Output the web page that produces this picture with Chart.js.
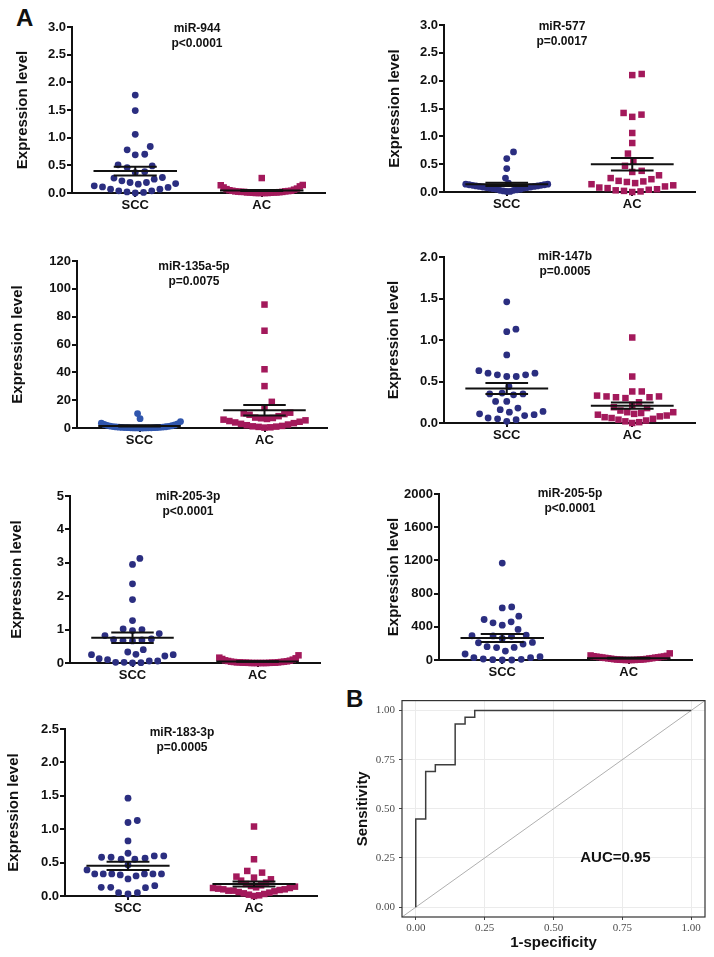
<!DOCTYPE html>
<html>
<head>
<meta charset="utf-8">
<script src="https://cdn.jsdelivr.net/npm/chart.js@4.4.1/dist/chart.umd.min.js"></script>
<style>
html, body { margin: 0; padding: 0; background: #fff; }
body { position: relative; width: 714px; height: 957px; overflow: hidden; font-family: "Liberation Sans", Arial, sans-serif; }
canvas { position: absolute; }
.tag { position: absolute; font-weight: bold; font-size: 24px; line-height: 24px; color: #111; }
</style>
</head>
<body>
<div class="tag" style="left:16px;top:6px">A</div>
<div class="tag" style="left:346px;top:687px">B</div>
<script>
// ---- data ----
const groups = ['SCC', 'AC'];
const titles = ['miR-944', 'miR-577', 'miR-135a-5p', 'miR-147b', 'miR-205-3p', 'miR-205-5p', 'miR-183-3p'];
const pValues = ['p<0.0001', 'p=0.0017', 'p=0.0075', 'p=0.0005', 'p<0.0001', 'p<0.0001', 'p=0.0005'];
const yMaxes = [3, 3, 120, 2, 5, 2000, 2.5];
const ySteps = [0.5, 0.5, 20, 0.5, 1, 400, 0.5];
const yDecimals = [1, 1, 0, 1, 0, 0, 1];

const mir944Scc = [1.77, 1.49, 1.06, 0.84, 0.78, 0.70, 0.69, 0.51, 0.49, 0.46, 0.385, 0.37, 0.28, 0.27, 0.25, 0.22, 0.19, 0.19, 0.17, 0.16, 0.13, 0.11, 0.10, 0.07, 0.07, 0.04, 0.04, 0.02, 0.01, 0.0];
const mir944Ac = [0.27, 0.145, 0.14, 0.12, 0.10, 0.08, 0.07, 0.06, 0.05, 0.04, 0.04, 0.035, 0.03, 0.03, 0.025, 0.02, 0.02, 0.02, 0.015, 0.01, 0.01, 0.01, 0.01, 0.005, 0.005, 0.0, 0.0, 0.0, 0.0, 0.0];

const mir577Scc = [0.72, 0.60, 0.42, 0.25, 0.16, 0.14, 0.14, 0.13, 0.13, 0.12, 0.12, 0.11, 0.11, 0.10, 0.10, 0.09, 0.09, 0.08, 0.08, 0.07, 0.07, 0.06, 0.05, 0.05, 0.04, 0.03, 0.03, 0.02, 0.01, 0.01];
const mir577Ac = [2.12, 2.10, 1.42, 1.39, 1.35, 1.06, 0.88, 0.69, 0.55, 0.47, 0.38, 0.36, 0.30, 0.25, 0.23, 0.20, 0.19, 0.18, 0.16, 0.14, 0.12, 0.10, 0.08, 0.07, 0.05, 0.04, 0.03, 0.02, 0.01, 0.0];

const mir135Scc = [10.4, 6.7, 4.6, 3.5, 3.0, 2.6, 2.2, 1.9, 1.6, 1.4, 1.2, 1.0, 0.9, 0.8, 0.7, 0.6, 0.5, 0.4, 0.35, 0.3, 0.25, 0.2, 0.15, 0.1, 0.1, 0.05, 0.05, 0.02, 0.01, 0.0];
const mir135Ac = [88.7, 69.9, 42.2, 30.1, 18.8, 14.5, 11, 10.5, 10, 9.5, 8.5, 7.5, 7.2, 7.0, 6.5, 6.0, 5.5, 5.0, 4.5, 4.0, 3.5, 3.0, 2.5, 2.0, 1.5, 1.2, 1.0, 0.8, 0.5, 0.3];

const mir147Scc = [1.46, 1.13, 1.10, 0.82, 0.63, 0.60, 0.60, 0.58, 0.58, 0.56, 0.56, 0.44, 0.36, 0.35, 0.35, 0.34, 0.26, 0.26, 0.18, 0.16, 0.14, 0.13, 0.11, 0.10, 0.09, 0.06, 0.05, 0.04, 0.02];
const mir147Ac = [1.03, 0.56, 0.38, 0.38, 0.33, 0.32, 0.32, 0.31, 0.31, 0.30, 0.25, 0.22, 0.19, 0.18, 0.15, 0.13, 0.13, 0.12, 0.11, 0.10, 0.09, 0.08, 0.07, 0.06, 0.05, 0.04, 0.03, 0.02, 0.01, 0.0];

const mir2053Scc = [3.13, 2.95, 2.37, 1.90, 1.27, 1.02, 1.0, 0.97, 0.88, 0.82, 0.72, 0.70, 0.69, 0.67, 0.66, 0.40, 0.33, 0.26, 0.25, 0.25, 0.21, 0.13, 0.10, 0.06, 0.06, 0.02, 0.02, 0.01, 0.0];
const mir2053Ac = [0.23, 0.16, 0.14, 0.12, 0.10, 0.08, 0.07, 0.06, 0.05, 0.04, 0.04, 0.03, 0.03, 0.02, 0.02, 0.02, 0.01, 0.01, 0.01, 0.01, 0.005, 0.005, 0.0, 0.0, 0.0, 0.0, 0.0, 0.0];

const mir2055Scc = [1168, 640, 628, 528, 488, 460, 448, 420, 368, 300, 292, 290, 285, 260, 212, 208, 192, 160, 152, 150, 108, 72, 40, 28, 28, 12, 8, 4, 0, 0];
const mir2055Ac = [80, 55, 50, 45, 42, 40, 38, 35, 32, 30, 28, 25, 22, 20, 18, 15, 12, 10, 8, 6, 5, 4, 3, 2, 1, 0, 0, 0];

const mir183Scc = [1.465, 1.13, 1.10, 0.825, 0.64, 0.60, 0.60, 0.58, 0.58, 0.565, 0.55, 0.55, 0.465, 0.39, 0.33, 0.33, 0.33, 0.33, 0.33, 0.33, 0.315, 0.30, 0.255, 0.155, 0.13, 0.13, 0.125, 0.05, 0.05, 0.03];
const mir183Ac = [1.04, 0.55, 0.375, 0.35, 0.29, 0.275, 0.25, 0.23, 0.20, 0.18, 0.16, 0.15, 0.14, 0.13, 0.12, 0.12, 0.11, 0.10, 0.10, 0.09, 0.08, 0.08, 0.07, 0.06, 0.05, 0.04, 0.03, 0.02, 0.01, 0.0];

const sccValues = [mir944Scc, mir577Scc, mir135Scc, mir147Scc, mir2053Scc, mir2055Scc, mir183Scc];
const acValues = [mir944Ac, mir577Ac, mir135Ac, mir147Ac, mir2053Ac, mir2055Ac, mir183Ac];

// ROC curve (panel B)
const rocFpr = [0, 0, 0.036, 0.036, 0.071, 0.071, 0.143, 0.143, 0.179, 0.179, 0.214, 0.214, 1];
const rocTpr = [0, 0.448, 0.448, 0.690, 0.690, 0.724, 0.724, 0.931, 0.931, 0.966, 0.966, 1, 1];
const rocTicks = [0, 0.25, 0.5, 0.75, 1];
const aucLabel = 'AUC=0.95';

// ---- layout (pixel placement of each panel) ----
const layout = [
    { left: 0,   axisX: 72,  yTop: 27,  yZero: 193, xEnd: 325, labelX: 23,  titleX: 197, titleY: 29 },
    { left: 357, axisX: 444, yTop: 25,  yZero: 192, xEnd: 695, labelX: 395, titleX: 562, titleY: 27 },
    { left: 0,   axisX: 77,  yTop: 261, yZero: 428, xEnd: 327, labelX: 18,  titleX: 194, titleY: 267 },
    { left: 357, axisX: 444, yTop: 257, yZero: 423, xEnd: 695, labelX: 394, titleX: 565, titleY: 257 },
    { left: 0,   axisX: 70,  yTop: 496, yZero: 663, xEnd: 320, labelX: 17,  titleX: 188, titleY: 497 },
    { left: 357, axisX: 439, yTop: 494, yZero: 660, xEnd: 692, labelX: 394, titleX: 570, titleY: 494 },
    { left: 0,   axisX: 65,  yTop: 729, yZero: 896, xEnd: 317, labelX: 14,  titleX: 182, titleY: 733 }
];
const sccColors = ['#2b2e80', '#2b2e80', '#3056ad', '#2b2e80', '#2b2e80', '#2b2e80', '#2b2e80'];
const acColor = '#a3195b';
const FONT = '"Liberation Sans", Arial, sans-serif';
const INK = '#111';

function meanSem(vals) {
    const n = vals.length;
    const m = vals.reduce((a, b) => a + b, 0) / n;
    const sd = Math.sqrt(vals.reduce((a, b) => a + (b - m) * (b - m), 0) / (n - 1));
    return { mean: m, sem: sd / Math.sqrt(n) };
}

// beeswarm: points sorted by value, each placed at the free spot closest to the center;
// dense bands wider than capPx are squeezed, sparse rows keep their spacing
function swarm(vals, center, xs, ys, diam, capPx) {
    const pts = vals.map(v => ({ v, py: ys.getPixelForValue(v), dx: 0 }));
    const order = pts.slice().sort((a, b) => a.v - b.v);
    const placed = [];
    order.forEach(p => {
        const near = placed.filter(q => Math.abs(q.py - p.py) < diam);
        const cands = [0];
        near.forEach(q => {
            const off = Math.sqrt(diam * diam - (q.py - p.py) ** 2);
            cands.push(q.dx + off, q.dx - off);
        });
        cands.sort((a, b) => Math.abs(a) - Math.abs(b));
        for (const c of cands) {
            if (near.every(q => (q.dx - c) ** 2 + (q.py - p.py) ** 2 >= diam * diam - 0.01)) { p.dx = c; break; }
        }
        placed.push(p);
    });
    const px0 = xs.getPixelForValue(center);
    return pts.map(p => {
        const band = pts.filter(q => Math.abs(q.py - p.py) <= diam * 1.2);
        const localMax = Math.max(...band.map(q => Math.abs(q.dx)));
        const k = localMax > capPx ? capPx / localMax : 1;
        return { x: xs.getValueForPixel(px0 + p.dx * k), y: p.v };
    });
}

const titlePlugin = {
    id: 'panelTitle',
    afterDraw(chart, args, opts) {
        const ctx = chart.ctx;
        ctx.save();
        ctx.font = 'bold 12px ' + FONT;
        ctx.fillStyle = INK;
        ctx.textAlign = 'center';
        ctx.textBaseline = 'middle';
        opts.lines.forEach((t, k) => ctx.fillText(t, opts.x, opts.y + k * 15));
        ctx.restore();
    }
};

function lineSet(pts, color) {
    return { data: pts, showLine: true, borderColor: color, borderWidth: 2, pointRadius: 0, clip: false, tension: 0 };
}

function statSets(vals, center) {
    const { mean, sem } = meanSem(vals);
    const w = 0.33, c = 0.17;
    return [
        lineSet([{ x: center - w, y: mean }, { x: center + w, y: mean }], INK),
        lineSet([{ x: center - c, y: mean + sem }, { x: center + c, y: mean + sem }], INK),
        lineSet([{ x: center - c, y: mean - sem }, { x: center + c, y: mean - sem }], INK),
        lineSet([{ x: center, y: mean - sem }, { x: center, y: mean + sem }], INK)
    ];
}

function buildPanel(i) {
    const L = layout[i];
    const padTop = 12, padRight = 8, xh = 26;
    const top = L.yTop - padTop;
    const cv = document.createElement('canvas');
    cv.width = L.xEnd - L.left + padRight;
    cv.height = padTop + (L.yZero - L.yTop) + xh;
    cv.style.left = L.left + 'px';
    cv.style.top = top + 'px';
    document.body.appendChild(cv);

    const scc = sccValues[i], ac = acValues[i];
    const datasets = [
        ...statSets(scc, 1),
        ...statSets(ac, 2),
        { data: scc.map(v => ({ x: 1, y: v })), pointStyle: 'circle', pointRadius: 3.4, pointBackgroundColor: sccColors[i], pointBorderWidth: 0, clip: false },
        { data: ac.map(v => ({ x: 2, y: v })), pointStyle: 'rect', pointRadius: 4.6, pointBackgroundColor: acColor, pointBorderWidth: 0, clip: false }
    ];

    const chart = new Chart(cv, {
        type: 'scatter',
        data: { datasets },
        options: {
            responsive: false,
            animation: false,
            events: [],
            layout: { padding: { top: padTop, right: padRight, left: 0, bottom: 0 } },
            plugins: {
                legend: { display: false },
                tooltip: { enabled: false },
                panelTitle: { lines: [titles[i], pValues[i]], x: L.titleX - L.left, y: L.titleY - top }
            },
            scales: {
                x: {
                    type: 'linear', min: 0.5, max: 2.5,
                    afterBuildTicks: a => { a.ticks = [{ value: 1 }, { value: 2 }]; },
                    afterFit: s => { s.height = xh; },
                    ticks: { callback: v => groups[v - 1], font: { family: FONT, weight: 'bold', size: 13 }, color: INK, padding: 1, autoSkip: false, maxRotation: 0 },
                    grid: { display: true, drawOnChartArea: false, drawTicks: true, tickLength: 4, lineWidth: 2, color: INK },
                    border: { display: true, color: INK, width: 2 }
                },
                y: {
                    min: 0, max: yMaxes[i],
                    afterFit: s => { s.width = L.axisX - L.left; },
                    ticks: { stepSize: ySteps[i], callback: v => v.toFixed(yDecimals[i]), font: { family: FONT, weight: 'bold', size: 13 }, color: INK, padding: 1 },
                    grid: { display: true, drawOnChartArea: false, drawTicks: true, tickLength: 5, lineWidth: 2, color: INK },
                    border: { display: true, color: INK, width: 2 },
                    title: { display: true, text: 'Expression level', color: INK, font: { family: FONT, weight: 'bold', size: 15 }, padding: { top: L.labelX - L.left - 9, bottom: 0 } }
                }
            }
        },
        plugins: [titlePlugin]
    });

    const xs = chart.scales.x, ys = chart.scales.y;
    chart.data.datasets[8].data = swarm(scc, 1, xs, ys, 9.5, 41);
    chart.data.datasets[9].data = swarm(ac, 2, xs, ys, 9.5, 41);
    chart.update('none');
}

function buildRoc() {
    const cv = document.createElement('canvas');
    cv.width = 364; cv.height = 267;
    cv.style.left = '350px'; cv.style.top = '690px';
    document.body.appendChild(cv);

    const boxPlugin = {
        id: 'rocBox',
        afterDraw(chart) {
            const { ctx, chartArea: a, scales } = chart;
            ctx.save();
            ctx.strokeStyle = '#333';
            ctx.lineWidth = 1.2;
            ctx.strokeRect(a.left, a.top, a.right - a.left, a.bottom - a.top);
            ctx.font = 'bold 15px ' + FONT;
            ctx.fillStyle = INK;
            ctx.textAlign = 'center';
            ctx.textBaseline = 'middle';
            ctx.fillText(aucLabel, scales.x.getPixelForValue(0.725), scales.y.getPixelForValue(0.25));
            ctx.restore();
        }
    };

    const serif = { family: '"Liberation Serif", "DejaVu Serif", serif', size: 11 };
    new Chart(cv, {
        type: 'scatter',
        data: {
            datasets: [
                { data: rocFpr.map((x, k) => ({ x, y: rocTpr[k] })), showLine: true, borderColor: '#3d3d3d', borderWidth: 1.5, pointRadius: 0, tension: 0 },
                { data: [{ x: -0.05, y: -0.05 }, { x: 1.05, y: 1.05 }], showLine: true, borderColor: '#b0b0b0', borderWidth: 1, pointRadius: 0 }
            ]
        },
        options: {
            responsive: false,
            animation: false,
            events: [],
            layout: { padding: { top: 7, right: 9, left: 0, bottom: 0 } },
            plugins: { legend: { display: false }, tooltip: { enabled: false } },
            scales: {
                x: {
                    type: 'linear', min: -0.05, max: 1.05,
                    afterBuildTicks: a => { a.ticks = rocTicks.map(value => ({ value })); },
                    afterFit: s => { s.height = 40; },
                    ticks: { callback: v => v.toFixed(2), font: serif, color: '#4d4d4d', padding: 2, maxRotation: 0, autoSkip: false },
                    grid: { color: '#ebebeb', lineWidth: 1, tickColor: '#444', tickLength: 3 },
                    border: { display: false },
                    title: { display: true, text: '1-specificity', color: INK, font: { family: FONT, weight: 'bold', size: 15 }, padding: { top: 0, bottom: 5 } }
                },
                y: {
                    type: 'linear', min: -0.05, max: 1.05,
                    afterBuildTicks: a => { a.ticks = rocTicks.map(value => ({ value })); },
                    afterFit: s => { s.width = 52; },
                    ticks: { callback: v => v.toFixed(2), font: serif, color: '#4d4d4d', padding: 4 },
                    grid: { color: '#ebebeb', lineWidth: 1, tickColor: '#444', tickLength: 3 },
                    border: { display: false },
                    title: { display: true, text: 'Sensitivity', color: INK, font: { family: FONT, weight: 'bold', size: 15 }, padding: { top: 4, bottom: 0 } }
                }
            }
        },
        plugins: [boxPlugin]
    });
}

for (let i = 0; i < layout.length; i++) buildPanel(i);
buildRoc();
</script>
</body>
</html>
